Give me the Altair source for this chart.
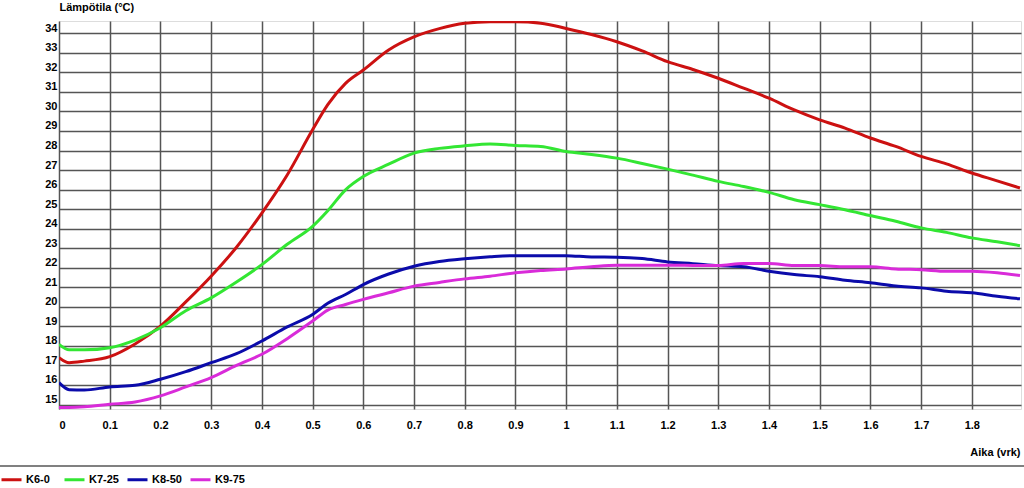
import altair as alt
import pandas as pd

# time (vrk)
t = [0, 0.02, 0.05, 0.1, 0.15, 0.2, 0.25, 0.3, 0.35, 0.4, 0.45, 0.5, 0.53, 0.565,
     0.6, 0.65, 0.7, 0.75, 0.8, 0.85, 0.9, 0.95, 1.0, 1.05, 1.1, 1.15, 1.2, 1.25,
     1.3, 1.35, 1.4, 1.45, 1.5, 1.55, 1.6, 1.65, 1.7, 1.75, 1.8, 1.85, 1.895]

k6_0 = [17.40, 17.14, 17.22, 17.45, 18.10, 19.01, 20.25, 21.57, 23.05, 24.80, 26.75,
        29.06, 30.35, 31.44, 32.12, 33.15, 33.82, 34.24, 34.51, 34.59, 34.59, 34.52,
        34.25, 33.94, 33.57, 33.10, 32.55, 32.15, 31.70, 31.19, 30.68, 30.08, 29.57,
        29.15, 28.64, 28.21, 27.70, 27.32, 26.85, 26.45, 26.08]
k7_25 = [18.08, 17.80, 17.80, 17.91, 18.30, 18.93, 19.80, 20.46, 21.27, 22.16, 23.20,
         24.12, 24.92, 25.99, 26.67, 27.30, 27.87, 28.11, 28.24, 28.33, 28.26, 28.21,
         27.95, 27.80, 27.61, 27.34, 27.05, 26.74, 26.42, 26.16, 25.86, 25.48, 25.23,
         24.97, 24.67, 24.38, 24.04, 23.81, 23.53, 23.33, 23.13]
k8_50 = [16.12, 15.76, 15.74, 15.90, 15.98, 16.29, 16.68, 17.14, 17.60, 18.25, 18.97,
         19.61, 20.18, 20.63, 21.14, 21.68, 22.08, 22.32, 22.46, 22.56, 22.62, 22.62,
         22.62, 22.55, 22.54, 22.47, 22.30, 22.21, 22.11, 22.05, 21.82, 21.65, 21.54,
         21.36, 21.23, 21.06, 20.97, 20.80, 20.72, 20.54, 20.41]
k9_75 = [14.85, 14.85, 14.88, 15.01, 15.13, 15.44, 15.90, 16.38, 17.00, 17.57, 18.37,
         19.27, 19.83, 20.12, 20.38, 20.72, 21.06, 21.25, 21.43, 21.57, 21.74, 21.86,
         21.94, 22.05, 22.13, 22.13, 22.13, 22.12, 22.11, 22.22, 22.22, 22.11, 22.11,
         22.05, 22.05, 21.94, 21.90, 21.82, 21.82, 21.74, 21.60]

series_names = ["K6-0", "K7-25", "K8-50", "K9-75"]
series_colors = ["#cc1111", "#33e633", "#0b0baa", "#d92bd9"]
series_values = [k6_0, k7_25, k8_50, k9_75]

x_ticks = [round(i * 0.1, 1) for i in range(19)]
y_ticks = list(range(15, 35))

rows = []
for name, vals in zip(series_names, series_values):
    for i, (tt, v) in enumerate(zip(t, vals)):
        rows.append({"Aika": tt, "Lampotila": v, "Sarja": name, "order": i})
df = pd.DataFrame(rows)

FONT = "Liberation Sans"

lines = alt.Chart(df).mark_line(strokeWidth=3, clip=True, interpolate="monotone").encode(
    x=alt.X("Aika:Q",
            scale=alt.Scale(domain=[0, 1.897], nice=False, zero=False),
            axis=alt.Axis(values=x_ticks, format="~g", title="Aika (vrk)",
                          grid=True, gridColor="#555555", gridWidth=1.5,
                          ticks=False, domain=False,
                          labelFont=FONT, labelFontWeight="bold", labelFontSize=11,
                          labelColor="black", labelPadding=10,
                          titleFont=FONT, titleFontWeight="bold", titleFontSize=11,
                          titleColor="black", titleX=961, titleY=43,
                          titleAlign="right", titleBaseline="middle")),
    y=alt.Y("Lampotila:Q",
            scale=alt.Scale(domain=[14.77, 34.63], nice=False, zero=False),
            axis=alt.Axis(values=y_ticks, title="Lämpötila (°C)",
                          grid=True, gridColor="#555555", gridWidth=1.5,
                          ticks=False, domain=False,
                          labelFont=FONT, labelFontWeight="bold", labelFontSize=11,
                          labelColor="black", labelPadding=2, labelBaseline="bottom",
                          titleFont=FONT, titleFontWeight="bold", titleFontSize=11,
                          titleColor="black", titleAngle=0, titleX=0, titleY=-14,
                          titleAlign="left", titleBaseline="middle")),
    color=alt.Color("Sarja:N",
                    scale=alt.Scale(domain=series_names, range=series_colors),
                    legend=alt.Legend(title=None, orient="none", legendX=-59,
                                      legendY=447, direction="horizontal",
                                      symbolType="stroke", symbolSize=400,
                                      symbolStrokeWidth=3, gridAlign="all",
                                      columnPadding=2, labelOffset=3, padding=0,
                                      labelFont=FONT, labelFontWeight="bold",
                                      labelFontSize=11, labelColor="black")),
    order="order:Q",
)

sep = alt.Chart(pd.DataFrame({"a": [0]})).mark_rule(
    color="#808080", strokeWidth=2).encode(
    x=alt.value(-59), x2=alt.value(965), y=alt.value(445))

chart = alt.layer(lines, sep).properties(
    width=962, height=388,
    padding={"left": 59, "top": 21, "right": 3, "bottom": 79},
    autosize=alt.AutoSizeParams(type="none"),
).configure_view(stroke="black", strokeWidth=2).configure(background="white")

chart.save("out.html", embed_options={"renderer": "svg", "actions": False})
